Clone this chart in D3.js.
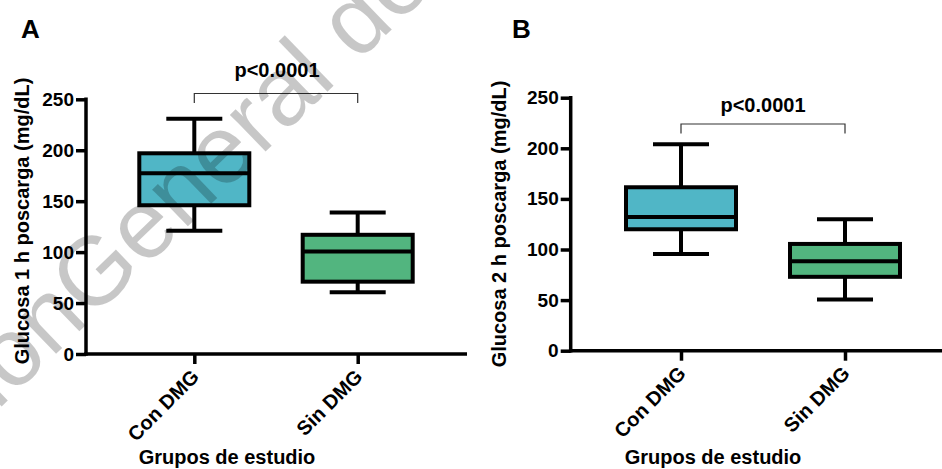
<!DOCTYPE html>
<html>
<head>
<meta charset="utf-8">
<script src="https://cdn.jsdelivr.net/npm/d3@7"></script>
<style>
  html, body { margin: 0; padding: 0; background: #fff; }
  svg { display: block; }
  text { font-family: "Liberation Sans", Arial, sans-serif; font-weight: bold; fill: #000; }
</style>
</head>
<body>
<svg id="chart" width="942" height="469"></svg>
<script>
// Study groups
const groups = ["Con DMG", "Sin DMG"];
const groupFill = ["#50B6C6", "#52B57F"];
const yTicks = [0, 50, 100, 150, 200, 250];

// Glucose 1 h post-load (mg/dL): five-number summaries per group
const g1Min    = [121, 60.5];
const g1Q1     = [146, 71];
const g1Median = [177.5, 100.5];
const g1Q3     = [197, 117];
const g1Max    = [231, 139];

// Glucose 2 h post-load (mg/dL)
const g2Min    = [95.5, 50.5];
const g2Q1     = [120, 73];
const g2Median = [132, 88.5];
const g2Q3     = [161.5, 105.5];
const g2Max    = [204, 130];

const pLabel = "p<0.0001";

const svg = d3.select("#chart");

function drawPanel(cfg) {
  const g = svg.append("g");
  const y = d3.scaleLinear().domain([0, 250]).range([cfg.y0, cfg.yTop]);
  const x = d3.scalePoint().domain(groups).range([cfg.x1, cfg.x2]);

  const boxW = 110, capW = 56, lw = 4;

  // boxes and whiskers
  groups.forEach((grp, i) => {
    const cx = x(grp);
    const s = cfg.stats;
    const bx = g.append("g");
    // whisker stems
    bx.append("line").attr("x1", cx).attr("x2", cx)
      .attr("y1", y(s.max[i])).attr("y2", y(s.q3[i]))
      .attr("stroke", "#000").attr("stroke-width", lw);
    bx.append("line").attr("x1", cx).attr("x2", cx)
      .attr("y1", y(s.q1[i])).attr("y2", y(s.min[i]))
      .attr("stroke", "#000").attr("stroke-width", lw);
    // caps
    [s.max[i], s.min[i]].forEach(v => {
      bx.append("line").attr("x1", cx - capW / 2).attr("x2", cx + capW / 2)
        .attr("y1", y(v)).attr("y2", y(v))
        .attr("stroke", "#000").attr("stroke-width", lw);
    });
    // box
    bx.append("rect")
      .attr("x", cx - boxW / 2).attr("width", boxW)
      .attr("y", y(s.q3[i])).attr("height", y(s.q1[i]) - y(s.q3[i]))
      .attr("fill", groupFill[i]).attr("stroke", "#000").attr("stroke-width", lw);
    // median
    bx.append("line").attr("x1", cx - boxW / 2).attr("x2", cx + boxW / 2)
      .attr("y1", y(s.median[i])).attr("y2", y(s.median[i]))
      .attr("stroke", "#000").attr("stroke-width", lw);
  });

  // y axis
  const yAxis = g.append("g").attr("transform", `translate(${cfg.axisX},0)`)
    .call(d3.axisLeft(y).tickValues(yTicks).tickSize(10).tickSizeOuter(0).tickPadding(2));
  yAxis.select(".domain").remove();
  yAxis.selectAll(".tick line").attr("stroke", "#000").attr("stroke-width", 3.5);
  yAxis.selectAll(".tick text").style("font-size", "19px")
    .style("font-family", '"Liberation Sans", Arial, sans-serif').style("font-weight", "bold");
  g.append("line").attr("x1", cfg.axisX).attr("x2", cfg.axisX)
    .attr("y1", y(250) - 1.75).attr("y2", cfg.y0 + 1.75)
    .attr("stroke", "#000").attr("stroke-width", 3.5);

  // x axis
  const xAxis = g.append("g").attr("transform", `translate(0,${cfg.y0})`)
    .call(d3.axisBottom(x).tickSize(10).tickSizeOuter(0).tickFormat(""));
  xAxis.select(".domain").remove();
  xAxis.selectAll(".tick line").attr("stroke", "#000").attr("stroke-width", 3.5);
  g.append("line").attr("x1", cfg.axisX - 1.75).attr("x2", cfg.xEnd)
    .attr("y1", cfg.y0).attr("y2", cfg.y0)
    .attr("stroke", "#000").attr("stroke-width", 3.5);

  // rotated group labels
  groups.forEach(grp => {
    g.append("text")
      .attr("transform", `translate(${x(grp) + 6},${cfg.y0 + 24}) rotate(-45)`)
      .attr("text-anchor", "end")
      .style("font-size", "20px")
      .text(grp);
  });

  // axis titles
  g.append("text")
    .attr("transform", `translate(${cfg.yTitleX},${cfg.yTitleY}) rotate(-90)`)
    .attr("text-anchor", "middle").style("font-size", "20px")
    .text(cfg.yTitle);
  g.append("text")
    .attr("x", cfg.xTitleX).attr("y", 464)
    .attr("text-anchor", "middle").style("font-size", "20px")
    .text("Grupos de estudio");

  // panel letter
  g.append("text").attr("x", cfg.letterX).attr("y", 38)
    .style("font-size", "26px").text(cfg.letter);

  // significance bracket
  const bx1 = x(groups[0]), bx2 = x(groups[1]);
  g.append("path")
    .attr("d", `M${bx1},${cfg.brTop + cfg.brDrop}V${cfg.brTop}H${bx2}V${cfg.brTop + cfg.brDrop}`)
    .attr("fill", "none").attr("stroke", "#333").attr("stroke-width", 1.2);
  g.append("text")
    .attr("x", cfg.pX).attr("y", cfg.pY)
    .attr("text-anchor", "middle").style("font-size", "20px")
    .text(pLabel);
}

drawPanel({
  letter: "A", letterX: 21,
  axisX: 86, y0: 354, yTop: 99.3, x1: 194.3, x2: 357.7, xEnd: 467,
  stats: { min: g1Min, q1: g1Q1, median: g1Median, q3: g1Q3, max: g1Max },
  yTitle: "Glucosa 1 h poscarga (mg/dL)", yTitleX: 28.5, yTitleY: 221,
  xTitleX: 227,
  brTop: 93.5, brDrop: 9.5, pX: 277, pY: 76.5
});

drawPanel({
  letter: "B", letterX: 512,
  axisX: 570.7, y0: 350.7, yTop: 97.7, x1: 681, x2: 845, xEnd: 942,
  stats: { min: g2Min, q1: g2Q1, median: g2Median, q3: g2Q3, max: g2Max },
  yTitle: "Glucosa 2 h poscarga (mg/dL)", yTitleX: 506, yTitleY: 224,
  xTitleX: 713,
  brTop: 124, brDrop: 9.5, pX: 763, pY: 111.5
});

// translucent watermark lettering across the first panel
const wm = svg.append("g").attr("pointer-events", "none");
[["General de", "start"], ["ción ", "end"]].forEach(([t, anchor]) => {
  wm.append("text")
    .attr("transform", "translate(90,321) rotate(-44)")
    .attr("text-anchor", anchor)
    .style("font-family", '"Liberation Sans", Arial, sans-serif')
    .style("font-weight", "normal").style("font-size", "97px")
    .attr("fill", "#000").attr("fill-opacity", 0.22)
    .text(t);
});
</script>
</body>
</html>
